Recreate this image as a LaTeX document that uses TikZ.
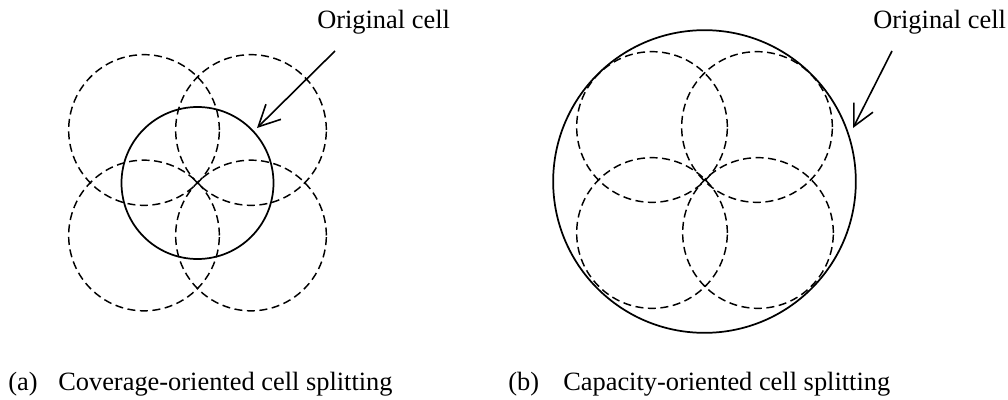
\documentclass[tikz,border=0pt]{standalone}
\usepackage{fontspec}
\setmainfont{Liberation Serif}
\usetikzlibrary{arrows.meta}
\begin{document}
\begin{tikzpicture}[x=0.75pt,y=-0.75pt,
  solidcell/.style={draw, circle, line width=1.3pt, inner sep=0pt},
  dashcell/.style={draw, circle, line width=1.1pt, inner sep=0pt, dash pattern=on 6pt off 3.4pt, minimum size=113pt},
  lbl/.style={anchor=base west, inner sep=0pt, font=\fontsize{19.8}{24}\selectfont},
  pointer/.style={line width=1.2pt, -{Straight Barb[length=16pt,width=16pt,line width=1.2pt]}}
]
\useasboundingbox (0,0) rectangle (1008,400);
% (a)
\node[dashcell] (a1) at (144,130) {};
\node[dashcell] (a2) at (251,130) {};
\node[dashcell] (a3) at (144,235.5) {};
\node[dashcell] (a4) at (251,235.5) {};
\node[solidcell, minimum size=114pt] (cellA) at (197.5,183) {};
\node[lbl] (labA) at (317,28) {Original cell};
\coordinate (startA) at (335,51);
\coordinate (tipA) at (257,128);
\draw[pointer] (startA) -- (tipA);
% (b)
\node[dashcell] (b1) at (652,127) {};
\node[dashcell] (b2) at (757,127) {};
\node[dashcell] (b3) at (652,233) {};
\node[dashcell] (b4) at (758,233) {};
\node[solidcell, minimum size=227pt] (cellB) at (704.5,181.5) {};
\node[lbl] (labB) at (873,28) {Original cell};
\coordinate (startB) at (892,51);
\coordinate (tipB) at (853,128);
\draw[pointer] (startB) -- (tipB);
% captions
\node[lbl] (capAn) at (8,390) {(a)};
\node[lbl] (capAt) at (58,390) {Coverage-oriented cell splitting};
\node[lbl] (capBn) at (508,390) {(b)};
\node[lbl] (capBt) at (563,390) {Capacity-oriented cell splitting};
\end{tikzpicture}
\end{document}
